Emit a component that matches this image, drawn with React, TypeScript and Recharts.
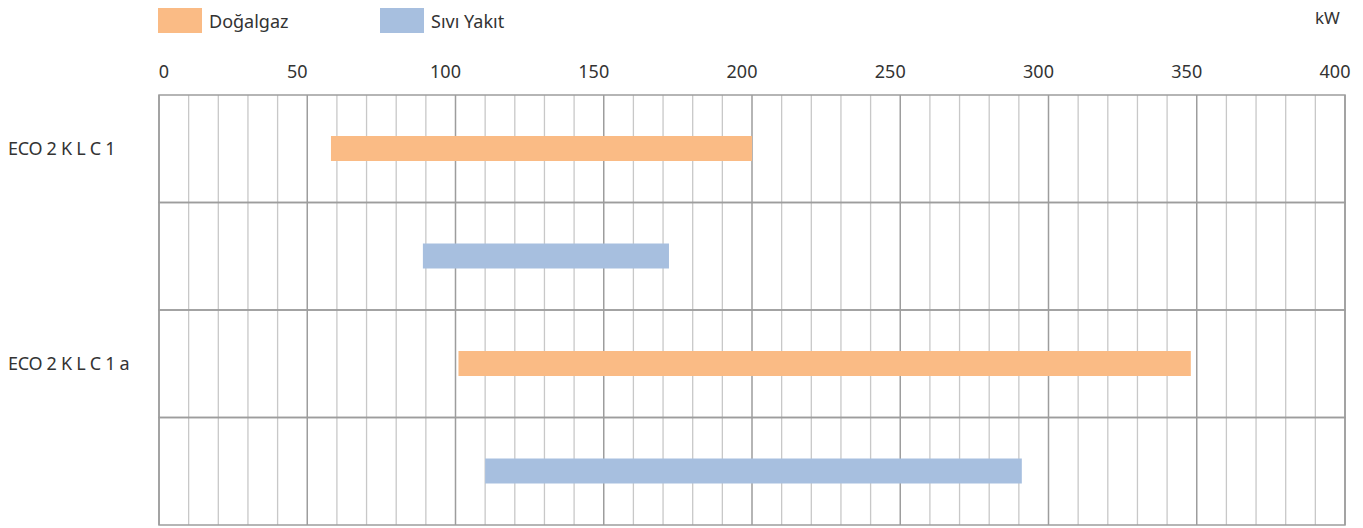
import { BarChart, Bar, Cell, XAxis, YAxis, CartesianGrid, ReferenceLine, ReferenceArea } from "recharts";

const rowIds = ["r1", "r2", "r3", "r4"];
const rowLabels = ["ECO 2 K L C 1", "", "ECO 2 K L C 1 a", ""];
const fuelType = ["gas", "oil", "gas", "oil"];
const rangeStart = [58, 89, 101, 110];
const rangeEnd = [200, 172, 348, 291];

const majorTicks = [0, 50, 100, 150, 200, 250, 300, 350, 400];
const minorTicks = [
  10, 20, 30, 40, 60, 70, 80, 90, 110, 120, 130, 140, 160, 170, 180, 190,
  210, 220, 230, 240, 260, 270, 280, 290, 310, 320, 330, 340, 360, 370, 380, 390,
];

const GAS = "#FABB85";
const OIL = "#A7BFDF";
const FONT = "'Noto Sans', sans-serif";

const data = rowIds.map((id, i) => ({
  id,
  range: [rangeStart[i], rangeEnd[i]],
  fuel: fuelType[i],
}));

function TopTick(props: any) {
  const { x, y, payload } = props;
  const dx = payload.value === 0 ? 5 : -10;
  return (
    <text x={x + dx} y={y - 9} textAnchor="middle" fill="#333" fontSize={18} fontFamily={FONT}>
      {payload.value}
    </text>
  );
}

function RowTick(props: any) {
  const { y, payload, index } = props;
  const label = rowLabels[index ?? rowIds.indexOf(payload.value)] ?? "";
  return (
    <text x={0} y={y} dy={6} textAnchor="start" fill="#333" fontSize={18} fontFamily={FONT} letterSpacing={-0.3}>
      {label}
    </text>
  );
}

function LegendItem({ color, label, left }: { color: string; label: string; left: number }) {
  return (
    <div style={{ position: "absolute", left, top: 0, display: "flex", alignItems: "center", height: 25 }}>
      <div style={{ width: 44, height: 25, background: color }} />
      <span style={{ marginLeft: 7, fontSize: 18, color: "#333", fontFamily: FONT }}>{label}</span>
    </div>
  );
}

export default function App() {
  return (
    <div style={{ position: "relative", width: 1355, height: 520 }}>
      <LegendItem color={GAS} label="Doğalgaz" left={150} />
      <LegendItem color={OIL} label="Sıvı Yakıt" left={372} />
      <div style={{ position: "absolute", left: 1307, top: -2, fontSize: 17, color: "#333", fontFamily: FONT }}>kW</div>
      <BarChart
        width={1355}
        height={520}
        data={data}
        layout="vertical"
        margin={{ top: 40, right: 18, bottom: 3, left: 0 }}
      >
        <XAxis
          xAxisId="main"
          type="number"
          orientation="top"
          domain={[0, 400]}
          ticks={majorTicks}
          height={47}
          axisLine={false}
          tickLine={false}
          tick={<TopTick />}
          interval={0}
        />
        <YAxis
          yAxisId="cat"
          type="category"
          dataKey="id"
          width={151}
          axisLine={false}
          tickLine={false}
          tick={<RowTick />}
          interval={0}
        />
        {minorTicks.map((t) => (
          <ReferenceLine
            key={"m" + t}
            xAxisId="main"
            yAxisId="cat"
            x={t}
            stroke="#c8c8c8"
            strokeWidth={1.3}
            zIndex={-90}
          />
        ))}
        <CartesianGrid xAxisId="main" yAxisId="cat" horizontal={false} stroke="#9d9d9d" strokeWidth={1.5} />
        {rowIds.map((id) => (
          <ReferenceArea
            key={"h" + id}
            xAxisId="main"
            yAxisId="cat"
            y1={id}
            y2={id}
            fill="none"
            fillOpacity={0}
            stroke="#9d9d9d"
            strokeWidth={1.5}
            zIndex={-80}
          />
        ))}
        <Bar
          xAxisId="main"
          yAxisId="cat"
          dataKey="range"
          barSize={25}
          isAnimationActive={false}
        >
          {data.map((d) => (
            <Cell key={d.id} fill={d.fuel === "gas" ? GAS : OIL} />
          ))}
        </Bar>
      </BarChart>
    </div>
  );
}
